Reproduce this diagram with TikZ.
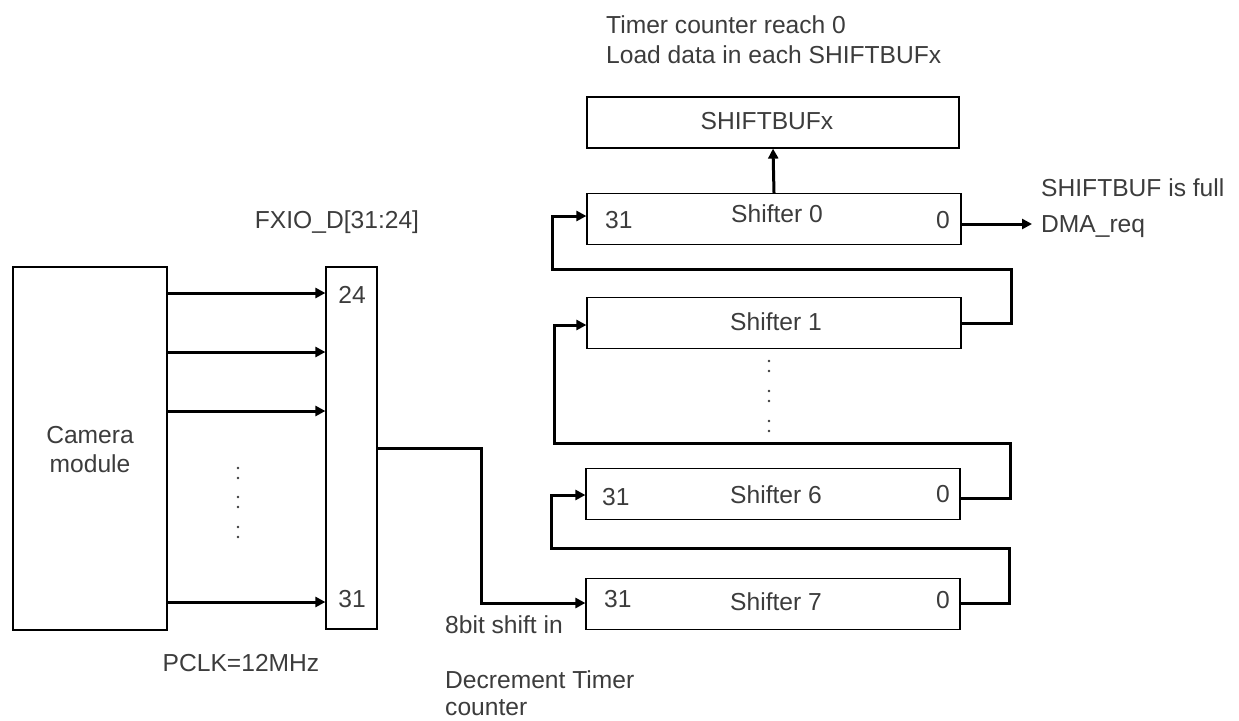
\documentclass[tikz,border=0pt]{standalone}
\usepackage{fontspec}
\setmainfont{Liberation Sans}
\usetikzlibrary{arrows.meta}
\definecolor{txt}{RGB}{60,60,60}
\begin{document}
\begin{tikzpicture}[x=1pt,y=-1pt,
  box/.style={draw=black,line width=1.2pt,inner sep=0pt},
  shbox/.style={box,minimum width=374pt,minimum height=51pt},
  lbl/.style={inner sep=0pt,text=txt,font=\fontsize{24.6}{28}\selectfont},
  conn/.style={line width=3pt,line join=miter},
  arr/.style={conn,-{Triangle[length=10pt,width=10pt]}},
  dot/.style={fill=txt}]
\useasboundingbox (0,0) rectangle (1239,720);

% camera module and FXIO pins
\node[box,minimum width=154pt,minimum height=363pt] (cam) at (90,448.5) {};
\node[lbl,anchor=base] (cam1) at (90,443) {Camera};
\node[lbl,anchor=base] (cam2) at (90,472) {module};
\node[box,minimum width=51pt,minimum height=362pt] (fxio) at (351.5,448) {};
\node[lbl,anchor=base] (p24) at (352,303) {24};
\node[lbl,anchor=base] (p31) at (352,607) {31};
\node[lbl,anchor=base] (fxlbl) at (337,228) {FXIO\_D[31:24]};
\node[lbl,anchor=base] (pclk) at (241,671) {PCLK=12MHz};

\draw[arr] (cam.east |- 0,293) -- (fxio.west |- 0,293);
\draw[arr] (cam.east |- 0,352) -- (fxio.west |- 0,352);
\draw[arr] (cam.east |- 0,411) -- (fxio.west |- 0,411);
\draw[arr] (cam.east |- 0,602) -- (fxio.west |- 0,602);
\foreach \y in {468,478,497,507,527,537} \fill[dot] (238,\y) circle (1.3pt);

% buffer and shifters
\node[box,minimum width=372pt,minimum height=51pt] (buf) at (773,122.5) {};
\node[lbl,anchor=base] (buftxt) at (767,129) {SHIFTBUFx};
\node[shbox] (s0) at (774,219) {};
\node[shbox] (s1) at (774,323) {};
\node[shbox] (s6) at (773,494) {};
\node[shbox] (s7) at (773,604) {};

\node[lbl,anchor=base west] (s0a) at (605,228) {31};
\node[lbl,anchor=base] (s0n) at (777,222) {Shifter 0};
\node[lbl,anchor=base east] (s0b) at (950,228) {0};
\node[lbl,anchor=base] (s1n) at (776,330) {Shifter 1};
\node[lbl,anchor=base west] (s6a) at (602,505) {31};
\node[lbl,anchor=base] (s6n) at (776,503) {Shifter 6};
\node[lbl,anchor=base east] (s6b) at (950,502) {0};
\node[lbl,anchor=base west] (s7a) at (604,607) {31};
\node[lbl,anchor=base] (s7n) at (776,610) {Shifter 7};
\node[lbl,anchor=base east] (s7b) at (950,608) {0};
\foreach \y in {361,371,391,401,421,431} \fill[dot] (769,\y) circle (1.3pt);

% texts
\node[lbl,anchor=base west] (t1) at (606,33) {Timer counter reach 0};
\node[lbl,anchor=base west] (t2) at (606,63) {Load data in each SHIFTBUFx};
\node[lbl,anchor=base west] (full) at (1041,196) {SHIFTBUF is full};
\node[lbl,anchor=base west] (dma) at (1041,232) {DMA\_req};
\node[lbl,anchor=base west] (sin) at (445,633) {8bit shift in};
\node[lbl,anchor=base west] (dec1) at (445,688) {Decrement Timer};
\node[lbl,anchor=base west] (dec2) at (445,715) {counter};

% connectors
\draw[arr] (fxio.east |- 0,448) -- (481,448) -- (481,603) -- (s7.west |- 0,603);
\draw[arr] (s7.east |- 0,603) -- (1009,603) -- (1009,548) -- (551,548) -- (551,495) -- (s6.west |- 0,495);
\draw[arr] (s6.east |- 0,498) -- (1010,498) -- (1010,443) -- (554,443) -- (554,325) -- (s1.west |- 0,325);
\draw[arr] (s1.east) -- (1011,323) -- (1011,269) -- (552,269) -- (552,216) -- (s0.west |- 0,216);
\draw[arr] (s0.north) -- (buf.south);
\draw[arr,shorten >=9pt] (s0.east |- 0,224) -- (dma.west |- 0,224);
\end{tikzpicture}
\end{document}
